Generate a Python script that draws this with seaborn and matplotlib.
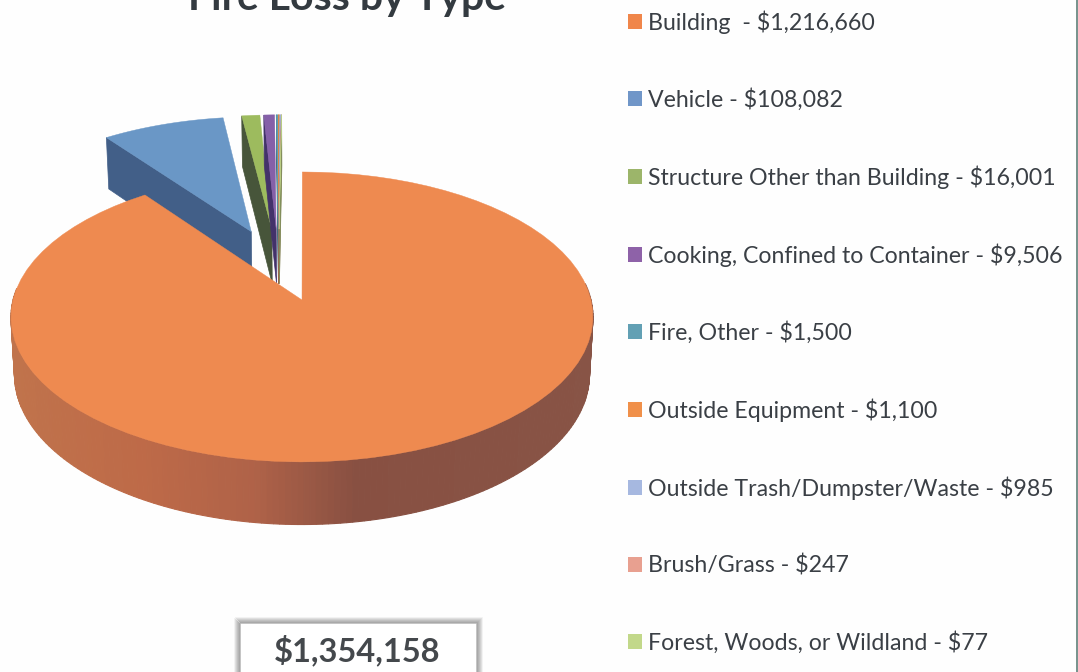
import numpy as np
import seaborn as sns
import matplotlib.pyplot as plt
from matplotlib.patches import Patch, Rectangle, Polygon

categories = [
    "Building ", "Vehicle", "Structure Other than Building",
    "Cooking, Confined to Container", "Fire, Other", "Outside Equipment",
    "Outside Trash/Dumpster/Waste", "Brush/Grass", "Forest, Woods, or Wildland",
]
losses = [1216660, 108082, 16001, 9506, 1500, 1100, 985, 247, 77]
top_colors = ["#EE8A50", "#6A97C6", "#9DBB5E", "#8560A8", "#5F9FB2",
              "#F0904A", "#A6B8E0", "#E8A090", "#C2D88A"]
side_colors = ["#B5673F", "#425F88", "#47553A", "#43326A", "#3F6A78",
               "#A86030", "#7080A0", "#A07060", "#808F5A"]
legend_colors = ["#F0864A", "#7096C8", "#9CB56A", "#8E62A8", "#62A0B4",
                 "#F0904A", "#A6B8E0", "#E8A090", "#C2D88A"]

sns.set_theme(style="white")
plt.rcParams["font.family"] = ["Lato", "DejaVu Sans"]
palette = sns.color_palette(top_colors)
side_palette = sns.color_palette(side_colors)

fig = plt.figure(figsize=(10.78, 6.72), dpi=100)
ax = fig.add_axes([0, 0, 1, 1])


def project(u, v, low=0.0):
    # disc coordinates to screen pixels, with a bit of perspective
    w = 1 + 0.117 * v
    shrink = 1 - 0.012 * low
    return 305 + 289 * shrink * u / w, 300 - 143 * shrink * v / w + 57 * low / w


# let pie work out the slice angles and the pull-out, then redraw them tilted
wedges, _ = ax.pie(losses, explode=[0.27] * len(losses), startangle=90,
                   counterclock=False, center=(-0.095, 0.2565))
slices = [(w.center, w.theta1, w.theta2, w.r) for w in wedges]
for w in wedges:
    w.remove()
ax.set_aspect("auto")
ax.set_xlim(0, 1078)
ax.set_ylim(672, 0)
ax.axis("off")


def arc(center, t1, t2, r, n=80):
    t = np.radians(np.linspace(t1, t2, n))
    return center[0] + r * np.cos(t), center[1] + r * np.sin(t)


def wall_color(u):
    stops = [-1, -0.5, -0.15, 0.16, 1]
    r = np.interp(u, stops, [192, 190, 175, 136, 136])
    g = np.interp(u, stops, [116, 106, 98, 80, 84])
    b = np.interp(u, stops, [76, 72, 72, 66, 70])
    return r / 255, g / 255, b / 255


for i in [1, 2, 3, 4, 5, 6, 7, 8, 0]:
    center, t1, t2, r = slices[i]
    us, vs = arc(center, t1, t2, r)
    if i == 0:
        # outer wall of the big slice, shaded along the rim
        us2, vs2 = arc(center, t1, t2, r, 300)
        for k in range(len(us2) - 1):
            if vs2[k] > 0.1:
                continue
            a = project(us2[k], vs2[k])
            b = project(us2[k + 1], vs2[k + 1])
            c = project(us2[k + 1], vs2[k + 1], 1)
            d = project(us2[k], vs2[k], 1)
            col = wall_color((us2[k] - center[0]) / r)
            ax.add_patch(Polygon([a, b, c, d], closed=True, fc=col, ec=col, lw=0.8))
    else:
        # cut face on the left edge of each pulled out slice
        ou, ov = us[-1], vs[-1]
        pts = [project(ou, ov), project(*center), project(*center, 1), project(ou, ov, 1)]
        ax.add_patch(Polygon(pts, closed=True, fc=side_palette[i], ec=side_palette[i], lw=0.5))
    px, py = project(np.r_[center[0], us], np.r_[center[1], vs])
    ax.fill(px, py, color=palette[i], lw=0.3)

# legend
labels = [f"{c} - ${v:,}" for c, v in zip(categories, losses)]
handles = [Patch(fc=c, ec="none") for c in legend_colors]
leg = ax.legend(handles, labels, loc="upper left", bbox_to_anchor=(628, 10),
                bbox_transform=ax.transData, frameon=False, fontsize=16.7,
                labelcolor="#3a3f45", labelspacing=2.35, handlelength=0.6,
                handleheight=0.6, handletextpad=0.27, borderpad=0, borderaxespad=0)

ax.text(347, 10, "Fire Loss by Type", ha="center", va="baseline",
        fontsize=29.5, fontweight="bold", color="#333a40")

# total box with a soft grey edge
for pad, alpha in zip(range(5, -1, -1), [0.10, 0.18, 0.26, 0.34, 0.42, 0.5]):
    ax.add_patch(Rectangle((240 - pad, 623 - pad), 237 + 2 * pad, 80,
                           fc="none", ec="#777777", lw=1.2, alpha=alpha))
ax.add_patch(Rectangle((241, 624), 235, 60, fc="white", ec="none"))
ax.text(357, 650, f"${sum(losses):,}", ha="center", va="center",
        fontsize=23.5, fontweight="bold", color="#44484c")

ax.plot([1076.5, 1076.5], [0, 672], color="#5f7f78", lw=1.2)

fig.savefig("out.png", dpi=100, facecolor="#fefefe")
